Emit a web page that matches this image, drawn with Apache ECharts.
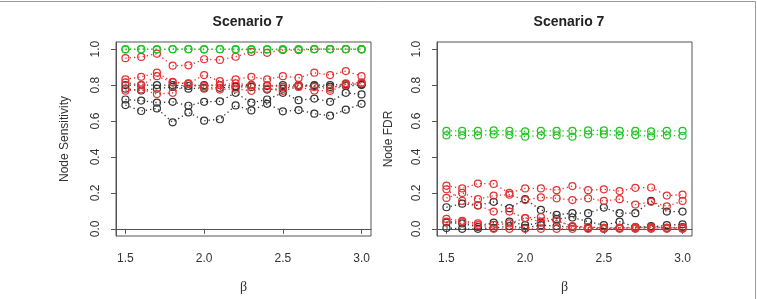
<!DOCTYPE html>
<html>
<head>
<meta charset="utf-8">
<script src="https://cdn.jsdelivr.net/npm/echarts@6/dist/echarts.min.js"></script>
<style>
  html, body { margin: 0; padding: 0; background: #fff; }
  #chart { width: 757px; height: 299px; }
</style>
</head>
<body>
<div id="chart"></div>
<script>
// beta values on the x axis
let betas = [1.5, 1.6, 1.7, 1.8, 1.9, 2.0, 2.1, 2.2, 2.3, 2.4, 2.5, 2.6, 2.7, 2.8, 2.9, 3.0];
let xTicks = [1.5, 2.0, 2.5, 3.0];
let yTicks = [0, 0.2, 0.4, 0.6, 0.8, 1.0];

// left panel: node sensitivity
let sensGreenA = [1, 1, 1, 1, 1, 1, 1, 1, 1, 1, 1, 1, 1, 1, 1, 1];
let sensGreenB = [0.998, 1, 0.998, 1, 1, 0.998, 1, 0.998, 0.998, 0.998, 0.998, 0.998, 1, 1, 1, 0.998];
let sensRedA = [0.950, 0.957, 0.975, 0.908, 0.910, 0.944, 0.940, 0.958, 0.985, 0.980, 0.995, 0.995, 1.0, 1.0, 1.0, 1.0];
let sensRedB = [0.832, 0.846, 0.869, 0.818, 0.809, 0.856, 0.822, 0.832, 0.846, 0.832, 0.850, 0.840, 0.869, 0.856, 0.878, 0.850];
let sensRedC = [0.815, 0.800, 0.850, 0.815, 0.805, 0.794, 0.800, 0.810, 0.800, 0.800, 0.790, 0.800, 0.790, 0.780, 0.810, 0.815];
let sensRedD = [0.769, 0.776, 0.750, 0.757, 0.810, 0.780, 0.775, 0.780, 0.768, 0.780, 0.768, 0.790, 0.770, 0.768, 0.800, 0.810];
let sensBlackA = [0.800, 0.800, 0.800, 0.800, 0.795, 0.800, 0.800, 0.795, 0.800, 0.795, 0.800, 0.800, 0.800, 0.800, 0.805, 0.805];
let sensBlackB = [0.780, 0.770, 0.780, 0.790, 0.780, 0.785, 0.785, 0.790, 0.790, 0.775, 0.780, 0.795, 0.795, 0.790, 0.795, 0.800];
let sensBlackC = [0.720, 0.714, 0.702, 0.707, 0.685, 0.707, 0.710, 0.757, 0.702, 0.720, 0.757, 0.716, 0.725, 0.707, 0.757, 0.748];
let sensBlackD = [0.689, 0.656, 0.670, 0.593, 0.648, 0.602, 0.610, 0.687, 0.659, 0.696, 0.654, 0.661, 0.641, 0.630, 0.663, 0.696];

// right panel: node FDR
let fdrGreenA = [0.545, 0.545, 0.545, 0.548, 0.545, 0.543, 0.545, 0.545, 0.545, 0.548, 0.548, 0.545, 0.545, 0.543, 0.545, 0.545];
let fdrGreenB = [0.520, 0.520, 0.520, 0.525, 0.522, 0.513, 0.520, 0.520, 0.513, 0.525, 0.525, 0.520, 0.522, 0.515, 0.520, 0.518];
let fdrRedA = [0.240, 0.225, 0.252, 0.250, 0.200, 0.225, 0.225, 0.215, 0.238, 0.215, 0.220, 0.210, 0.228, 0.230, 0.185, 0.190];
let fdrRedB = [0.172, 0.200, 0.165, 0.185, 0.190, 0.160, 0.175, 0.170, 0.160, 0.170, 0.155, 0.165, 0.135, 0.150, 0.125, 0.155];
let fdrRedC = [0.220, 0.155, 0.130, 0.096, 0.096, 0.060, 0.065, 0.045, 0.015, 0.010, 0.005, 0.005, 0.010, 0.005, 0.005, 0.002];
let fdrRedD = [0.055, 0.045, 0.030, 0.022, 0.030, 0.060, 0.040, 0.046, 0.013, 0.010, 0.005, 0.005, 0.005, 0.010, 0.005, 0.005];
let fdrRedE = [0.040, 0.040, 0.020, 0.000, 0.000, 0.000, 0.000, 0.000, 0.000, 0.000, 0.000, 0.000, 0.000, 0.000, 0.000, 0.000];
let fdrBlackA = [0.120, 0.140, 0.130, 0.150, 0.115, 0.165, 0.105, 0.078, 0.087, 0.087, 0.118, 0.087, 0.087, 0.155, 0.096, 0.096];
let fdrBlackB = [0.035, 0.030, 0.010, 0.035, 0.040, 0.020, 0.035, 0.055, 0.063, 0.040, 0.020, 0.040, 0.010, 0.010, 0.020, 0.025];
let fdrBlackC = [0.005, 0.000, 0.000, 0.005, 0.015, 0.005, 0.020, 0.015, 0.010, 0.005, 0.000, 0.005, 0.005, 0.015, 0.005, 0.010];

let GREEN = "#22c322";
let RED = "#e53232";
let BLACK = "#333333";
let FONT = "Liberation Sans";

function makeSeries(values, color, panel) {
  return {
    type: "line",
    xAxisIndex: panel,
    yAxisIndex: panel,
    data: values.map((v, i) => [betas[i], v]),
    symbol: "circle",
    symbolSize: 7,
    showSymbol: true,
    itemStyle: { color: "rgba(0,0,0,0)", borderColor: color, borderWidth: 1.2 },
    lineStyle: { color: color, width: 1.3, type: [1.3, 3] },
    emphasis: { disabled: true },
    z: 2
  };
}

function makeX(idx) {
  return {
    type: "value",
    gridIndex: idx,
    min: 1.44,
    max: 3.06,
    name: "β",
    nameLocation: "middle",
    nameGap: 44,
    nameTextStyle: { fontFamily: "Liberation Serif", fontSize: 14, color: "#333" },
    axisLine: { show: true, lineStyle: { color: "#555", width: 1 } },
    axisTick: { show: true, length: 5, customValues: xTicks, lineStyle: { color: "#555" } },
    axisLabel: {
      customValues: xTicks,
      margin: 17,
      fontFamily: FONT,
      fontSize: 12,
      color: "#333",
      formatter: v => v.toFixed(1)
    },
    splitLine: { show: false }
  };
}

function makeY(idx, name, gap) {
  return {
    type: "value",
    gridIndex: idx,
    min: -0.04,
    max: 1.04,
    name: name,
    nameLocation: "middle",
    nameGap: gap,
    nameTextStyle: { fontFamily: FONT, fontSize: 12, color: "#333" },
    axisLine: { show: true, lineStyle: { color: "#555", width: 1 } },
    axisTick: { show: true, length: 5, customValues: yTicks, lineStyle: { color: "#555" } },
    axisLabel: {
      customValues: yTicks,
      rotate: 90,
      margin: 14,
      fontFamily: FONT,
      fontSize: 12,
      color: "#333",
      formatter: v => v.toFixed(1)
    },
    splitLine: { show: false }
  };
}

let series = [];
[sensBlackA, sensBlackB, sensBlackC, sensBlackD].forEach(d => series.push(makeSeries(d, BLACK, 0)));
[sensRedA, sensRedB, sensRedC, sensRedD].forEach(d => series.push(makeSeries(d, RED, 0)));
[sensGreenA, sensGreenB].forEach(d => series.push(makeSeries(d, GREEN, 0)));
[fdrBlackA, fdrBlackB, fdrBlackC].forEach(d => series.push(makeSeries(d, BLACK, 1)));
[fdrRedA, fdrRedB, fdrRedC, fdrRedD, fdrRedE].forEach(d => series.push(makeSeries(d, RED, 1)));
[fdrGreenA, fdrGreenB].forEach(d => series.push(makeSeries(d, GREEN, 1)));

let chart = echarts.init(document.getElementById("chart"), null, { renderer: "canvas" });
chart.setOption({
  animation: false,
  backgroundColor: "#fff",
  title: [
    {
      text: "Scenario 7",
      left: 243,
      top: 10,
      textAlign: "center",
      textStyle: { fontFamily: FONT, fontSize: 14, fontWeight: "bold", color: "#222" }
    },
    {
      text: "Scenario 7",
      left: 564,
      top: 10,
      textAlign: "center",
      textStyle: { fontFamily: FONT, fontSize: 14, fontWeight: "bold", color: "#222" }
    }
  ],
  grid: [
    { left: 116, top: 42, width: 255, height: 194, show: true, borderColor: "#555", borderWidth: 1, backgroundColor: "transparent" },
    { left: 437, top: 42, width: 255, height: 194, show: true, borderColor: "#555", borderWidth: 1, backgroundColor: "transparent" }
  ],
  xAxis: [makeX(0), makeX(1)],
  yAxis: [makeY(0, "Node Sensitivity", 45), makeY(1, "Node FDR", 42)],
  series: series,
  graphic: [
    // outer frame of the figure
    { type: "line", shape: { x1: 0, y1: 1.5, x2: 755.5, y2: 1.5 }, style: { stroke: "#999", lineWidth: 1 } },
    { type: "line", shape: { x1: 755.5, y1: 1.5, x2: 755.5, y2: 299 }, style: { stroke: "#999", lineWidth: 1 } }
  ]
});
</script>
</body>
</html>
